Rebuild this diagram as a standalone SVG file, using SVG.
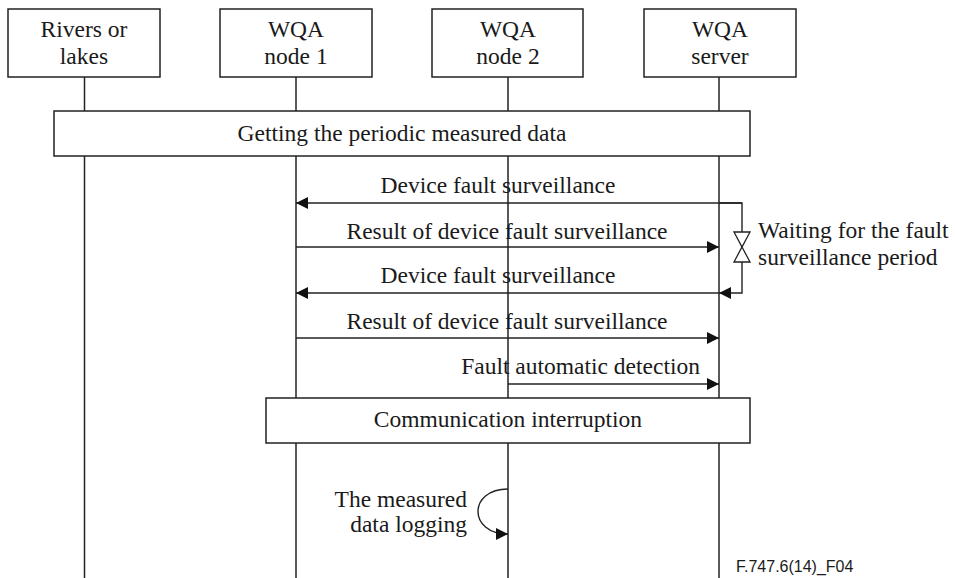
<svg xmlns="http://www.w3.org/2000/svg" width="955" height="578" viewBox="0 0 955 578">
  <style>
    .box { fill: #fff; stroke: #222; stroke-width: 1.5; }
    .life { stroke: #222; stroke-width: 1.5; fill: none; }
    .msg { stroke: #222; stroke-width: 1.4; fill: none; }
    .t { font-family: "Liberation Serif", "Times New Roman", serif; font-size: 23.5px; fill: #1a1a1a; }
    .c { text-anchor: middle; }
    .r { text-anchor: end; }
    .s { text-anchor: start; }
    .tag { font-family: "Liberation Sans", Arial, sans-serif; font-size: 16px; fill: #1a1a1a; }
  </style>
  <defs>
    <marker id="ah" viewBox="0 0 10 10" refX="10" refY="5" markerWidth="13" markerHeight="12" markerUnits="userSpaceOnUse" orient="auto">
      <path d="M0,0 L10,5 L0,10 Z" fill="#111"/>
    </marker>
  </defs>
  <rect width="955" height="578" fill="#fff"/>

  <!-- lifelines -->
  <g id="lifelines">
    <line class="life" x1="84.5" y1="77" x2="84.5" y2="578"/>
    <line class="life" x1="296" y1="77" x2="296" y2="578"/>
    <line class="life" x1="508" y1="77" x2="508" y2="578"/>
    <line class="life" x1="719" y1="77" x2="719" y2="578"/>
  </g>

  <!-- participants -->
  <g id="rivers">
    <rect class="box" x="8" y="9" width="152" height="68"/>
    <text class="t c" x="84" y="37">Rivers or</text>
    <text class="t c" x="84" y="64">lakes</text>
  </g>
  <g id="node1">
    <rect class="box" x="220" y="9" width="152" height="68"/>
    <text class="t c" x="296" y="37">WQA</text>
    <text class="t c" x="296" y="64">node 1</text>
  </g>
  <g id="node2">
    <rect class="box" x="432" y="9" width="151" height="68"/>
    <text class="t c" x="508" y="37">WQA</text>
    <text class="t c" x="508" y="64">node 2</text>
  </g>
  <g id="server">
    <rect class="box" x="644" y="9" width="152" height="68"/>
    <text class="t c" x="720" y="37">WQA</text>
    <text class="t c" x="720" y="64">server</text>
  </g>

  <!-- spanning activity boxes -->
  <g id="periodic">
    <rect class="box" x="54" y="111" width="696" height="45"/>
    <text class="t c" x="402" y="141">Getting the periodic measured data</text>
  </g>
  <g id="interruption">
    <rect class="box" x="266" y="398" width="484" height="45"/>
    <text class="t c" x="508" y="427">Communication interruption</text>
  </g>

  <!-- messages -->
  <g id="connectors">
    <line class="msg" x1="742" y1="203" x2="296" y2="203" marker-end="url(#ah)"/>
    <path class="msg" d="M719,203 H742 V293 H719" marker-end="url(#ah)"/>
    <line class="msg" x1="296" y1="247" x2="719" y2="247" marker-end="url(#ah)"/>
    <line class="msg" x1="719" y1="293" x2="296" y2="293" marker-end="url(#ah)"/>
    <line class="msg" x1="296" y1="338" x2="719" y2="338" marker-end="url(#ah)"/>
    <line class="msg" x1="508" y1="384" x2="719" y2="384" marker-end="url(#ah)"/>
    <path class="msg" d="M508,489 C468,489 468,534 508,534" marker-end="url(#ah)"/>
  </g>

  <!-- waiting period symbol -->
  <g id="waiting">
    <path d="M734,232 L750,232 L742,247 Z M742,247 L750,262 L734,262 Z" fill="#fff" stroke="#222" stroke-width="1.3"/>
    <text class="t s" x="758" y="238">Waiting for the fault</text>
    <text class="t s" x="758" y="265">surveillance period</text>
  </g>

  <!-- message labels -->
  <g id="labels">
    <text class="t c" x="498" y="193">Device fault surveillance</text>
    <text class="t c" x="507" y="239">Result of device fault surveillance</text>
    <text class="t c" x="498" y="283">Device fault surveillance</text>
    <text class="t c" x="507" y="329">Result of device fault surveillance</text>
    <text class="t r" x="700" y="374">Fault automatic detection</text>
    <text class="t r" x="467" y="507">The measured</text>
    <text class="t r" x="467" y="532">data logging</text>
  </g>

  <text class="tag" x="736" y="572">F.747.6(14)_F04</text>
</svg>
